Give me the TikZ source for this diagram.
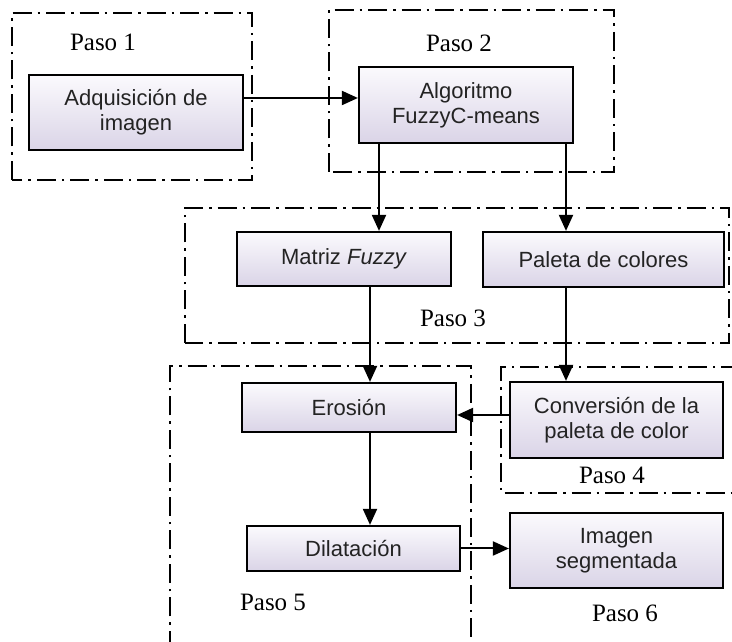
\documentclass[tikz,border=0pt]{standalone}
\usepackage{fontspec}
\setmainfont{Liberation Serif}
\newfontfamily\boxfont{Liberation Sans}
\usetikzlibrary{arrows.meta,calc}
\definecolor{boxtop}{RGB}{251,250,253}
\definecolor{boxbottom}{RGB}{218,212,231}
\definecolor{boxtext}{RGB}{35,35,35}
\tikzset{
  flow/.style={-{Triangle[length=16pt,width=14pt]}, line width=2pt, draw=black},
  proc/.style={draw=black, line width=2.2pt, rectangle, top color=boxtop, bottom color=boxbottom,
    text=boxtext, align=center, inner sep=0pt, font=\boxfont\fontsize{22}{25}\selectfont},
  stageframe/.style={draw=black, line width=1.7pt, dash pattern=on 19pt off 6pt on 2.5pt off 6pt},
  steplabel/.style={font=\fontsize{25}{28}\selectfont, inner sep=0pt}
}

\begin{document}
\begin{tikzpicture}[x=1pt, y=1pt]
  \useasboundingbox (0,0) rectangle (732,642);

  % stage frames
  \draw[stageframe] (12,462) rectangle (252,629);
  \draw[stageframe] (329,470) rectangle (614,632);
  \draw[stageframe] (185,299) rectangle (729,434);
  \draw[stageframe] (740,275) -- (501,275) -- (501,149) -- (740,149);
  \draw[stageframe] (170,-8) -- (170,276) -- (471,276) -- (471,-8);

  % process boxes
  \node[proc, minimum width=214pt, minimum height=75pt] (adq) at (136,529.5) {Adquisición de\\imagen};
  \node[proc, minimum width=214pt, minimum height=76pt] (algo) at (466,537) {Algoritmo\\FuzzyC-means};
  \node[proc, minimum width=214pt, minimum height=54pt] (matriz) at (344,383) {Matriz \textit{Fuzzy}};
  \node[proc, minimum width=241pt, minimum height=55pt] (paleta) at (603.5,382.5) {Paleta de colores};
  \node[proc, minimum width=214pt, minimum height=49pt] (eros) at (349,234.5) {Erosión};
  \node[proc, minimum width=213pt, minimum height=76pt] (conv) at (616.5,222) {Conversión de la\\paleta de color};
  \node[proc, minimum width=213pt, minimum height=45pt] (dila) at (353.5,93.5) {Dilatación};
  \node[proc, minimum width=213pt, minimum height=75pt] (imag) at (616.5,91.5) {Imagen\\segmentada};

  % step labels
  \node[steplabel] (paso1) at (103,600) {Paso 1};
  \node[steplabel] (paso2) at (459,599) {Paso 2};
  \node[steplabel] (paso3) at (453,324) {Paso 3};
  \node[steplabel] (paso4) at (612,167) {Paso 4};
  \node[steplabel] (paso5) at (273,40) {Paso 5};
  \node[steplabel] (paso6) at (625,29) {Paso 6};

  % connectors
  \draw[flow] ([yshift=14.5pt]adq.east) -- ([yshift=14.5pt]adq.east -| algo.west);
  \draw[flow] ([xshift=-87pt]algo.south) -- ([xshift=-87pt]algo.south |- matriz.north);
  \draw[flow] ([xshift=100pt]algo.south) -- ([xshift=100pt]algo.south |- paleta.north);
  \draw[flow] ([xshift=26pt]matriz.south) -- ([xshift=26pt]matriz.south |- eros.north);
  \draw[flow] ([xshift=-37.5pt]paleta.south) -- ([xshift=-37.5pt]paleta.south |- conv.north);
  \draw[flow] ([yshift=5pt]conv.west) -- ([yshift=5pt]conv.west -| eros.east);
  \draw[flow] ([xshift=21pt]eros.south) -- ([xshift=21pt]eros.south |- dila.north);
  \draw[flow] (dila.east) -- (dila.east -| imag.west);
\end{tikzpicture}
\end{document}
